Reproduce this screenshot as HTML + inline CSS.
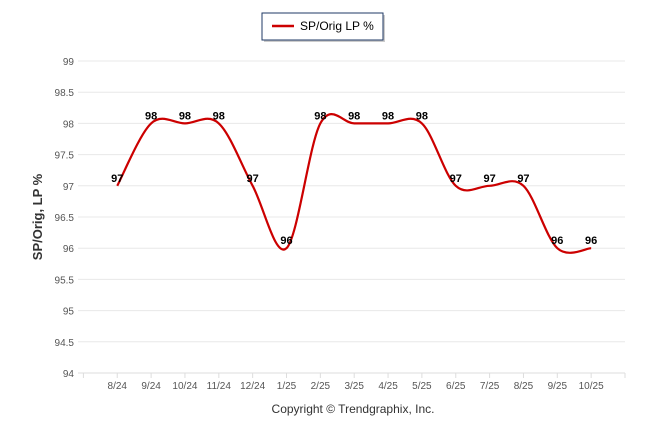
<!DOCTYPE html>
<html><head><meta charset="utf-8"><style>
body{margin:0;background:#fff;font-family:"Liberation Sans",sans-serif}
svg{display:block}
</style></head><body>
<svg id="chart" width="646" height="434">
<g id="grid"></g><g id="axes"></g><path id="line" fill="none" stroke="#cc0000" stroke-width="2.2"></path><g id="labels"></g>
<g>
<rect x="264" y="15" width="121" height="27" fill="#999" opacity="0.5"/>
<rect x="262" y="13" width="121" height="27" fill="#fff" stroke="#1f3864" stroke-width="1"/>
<line x1="272" y1="26" x2="294" y2="26" stroke="#cc0000" stroke-width="2.5"/>
<text x="300" y="30" font-size="12" fill="#000">SP/Orig LP %</text>
</g>
<text transform="translate(42,217) rotate(-90)" text-anchor="middle" font-size="13" font-weight="bold" fill="#333">SP/Orig, LP %</text>
<text x="353" y="413" text-anchor="middle" font-size="12" fill="#333">Copyright © Trendgraphix, Inc.</text>
</svg>
<script>
const categories=["8/24","9/24","10/24","11/24","12/24","1/25","2/25","3/25","4/25","5/25","6/25","7/25","8/25","9/25","10/25"];
const values=[97,98,98,98,97,96,98,98,98,98,97,97,97,96,96];
const yTicks=[94,94.5,95,95.5,96,96.5,97,97.5,98,98.5,99];
const NS="http://www.w3.org/2000/svg";
const x0=83.4,step=33.85,yTop=61,yBot=373,yMin=94,yMax=99;
const xs=i=>x0+step*(i+1);
const ys=v=>yBot-(v-yMin)/(yMax-yMin)*(yBot-yTop);
function mk(t,a,p,txt){const e=document.createElementNS(NS,t);for(const k in a)e.setAttribute(k,a[k]);if(txt!==undefined)e.textContent=txt;p.appendChild(e);return e;}
const grid=document.getElementById('grid'),axes=document.getElementById('axes'),labels=document.getElementById('labels');
yTicks.forEach(v=>{
 const l=mk('line',{x1:78,x2:625,y1:ys(v),y2:ys(v),stroke:v===94?'#ddd':'#e8e8e8','stroke-width':1},grid);
 
 
 const t=mk('text',{x:74,y:ys(v)+4,'text-anchor':'end','font-size':10,fill:'#555'},axes,String(v));
 
 
});
for(let k=0;k<=categories.length+1;k++){
 const tk=mk('line',{x1:x0+step*k,x2:x0+step*k,y1:373,y2:378,stroke:'#ddd'},axes);
 
 
}
categories.forEach((c,i)=>{
 const t=mk('text',{x:xs(i),y:389,'text-anchor':'middle','font-size':10,fill:'#555'},axes,c);
 
 
});
const pts=values.map((v,i)=>[xs(i),ys(v)]);
let d='M'+pts[0][0]+','+pts[0][1];
const T=0.5;
for(let i=0;i<pts.length-1;i++){
 const p0=pts[Math.max(0,i-1)],p1=pts[i],p2=pts[i+1],p3=pts[Math.min(pts.length-1,i+2)];
 const c1=[p1[0]+(p2[0]-p0[0])*T/3,p1[1]+(p2[1]-p0[1])*T/3];
 const c2=[p2[0]-(p3[0]-p1[0])*T/3,p2[1]-(p3[1]-p1[1])*T/3];
 d+=` C${c1[0]},${c1[1]} ${c2[0]},${c2[1]} ${p2[0]},${p2[1]}`;
}
document.getElementById('line').setAttribute('d',d);
values.forEach((v,i)=>{
 const t=mk('text',{x:xs(i),y:ys(v)-4,'text-anchor':'middle','font-size':11,'font-weight':'bold',fill:'#000'},labels,String(v));
 
 
});
</script>
</body></html>
